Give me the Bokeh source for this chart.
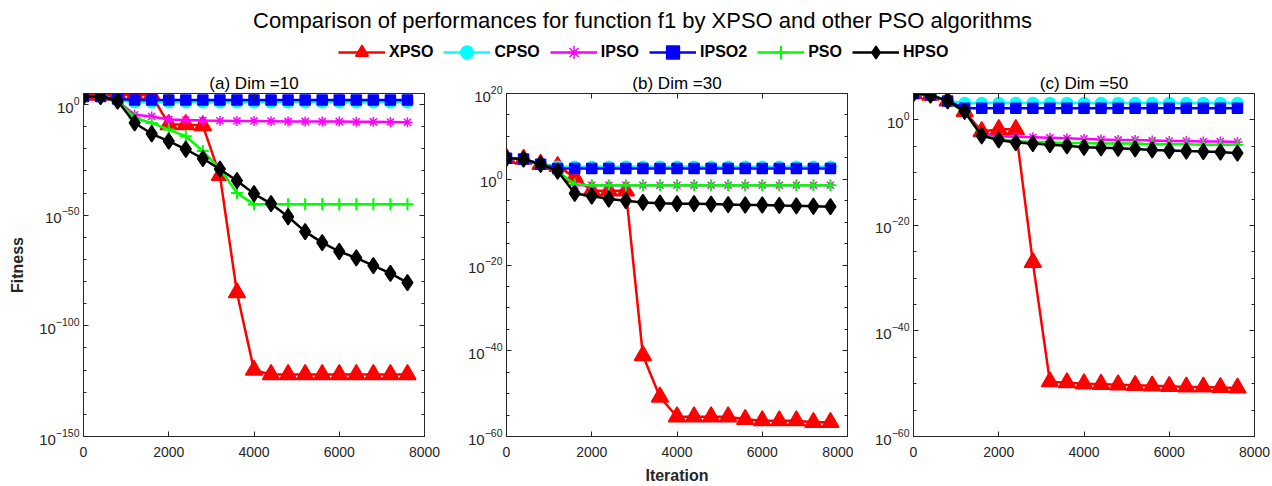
import math
from bokeh.plotting import figure
from bokeh.models import (Range1d, FixedTicker, LinearAxis, LogAxis, Legend,
                          LegendItem, Label, CustomJSTickFormatter)
from bokeh.layouts import column, row
from bokeh.embed import file_html
from bokeh.resources import INLINE

# ---------------- data ----------------
iterations = [0, 400, 800, 1200, 1600, 2000, 2400, 2800, 3200, 3600,
              4000, 4400, 4800, 5200, 5600, 6000, 6400, 6800, 7200, 7600]

series_names = ["XPSO", "CPSO", "IPSO", "IPSO2", "PSO", "HPSO"]
panel_titles = ["(a) Dim =10", "(b) Dim =30", "(c) Dim =50"]
main_title = "Comparison of performances for function f1 by XPSO and other PSO algorithms"
x_label = "Iteration"
y_label = "Fitness"
x_tick_values = [0, 2000, 4000, 6000, 8000]

# Dim = 10
d10_xpso = [2e4, 2e4, 2e4, 2e4, 2e4, 1e-9, 1e-9, 3.2e-10, 1e-32, 1e-85,
            1e-120, 1e-122, 1e-122, 1e-122, 1e-122, 1e-122, 1e-122, 1e-122, 1e-122, 1e-122]
d10_cpso = [4e3, 4e3, 1e2, 1e1, 1e1, 1e1, 1e1, 1e1, 1e1, 1e1,
            1e1, 1e1, 1e1, 1e1, 1e1, 1e1, 1e1, 1e1, 1e1, 1e1]
d10_ipso = [4e3, 4e3, 4e1, 2.5e-5, 4e-6, 1.6e-7, 1e-7, 6.3e-8, 5e-8, 4e-8,
            4e-8, 3.2e-8, 2.5e-8, 2.5e-8, 2e-8, 2e-8, 1.6e-8, 1.6e-8, 1.26e-8, 1e-8]
d10_ipso2 = [4e3, 4e3, 3.2e2, 1.26e2, 1.26e2, 1.26e2, 1.26e2, 1.26e2, 1.26e2, 1.26e2,
             1.26e2, 1.26e2, 1.26e2, 1.26e2, 1.26e2, 1.26e2, 1.26e2, 1.26e2, 1.26e2, 1.26e2]
d10_pso = [4e3, 4e3, 4e1, 7.9e-7, 5e-9, 5e-12, 5e-15, 1e-21, 1e-29, 1e-40,
           1e-45, 1e-45, 1e-45, 1e-45, 1e-45, 1e-45, 1e-45, 1e-45, 1e-45, 1e-45]
d10_hpso = [4e3, 4e3, 4e1, 5e-9, 6.3e-14, 3.2e-17, 6.3e-21, 4e-25, 6.3e-30, 4e-35,
            5e-41, 1.6e-45, 2e-51, 4e-58, 4e-63, 4e-67, 5e-70, 1.6e-73, 5e-77, 3.2e-81]

# Dim = 30
d30_xpso = [7.9e4, 5e4, 3.2e3, 1e3, 3.2, 2e-3, 2e-3, 2e-3, 7.9e-42, 1.6e-51,
            4e-56, 4e-56, 4e-56, 4e-56, 1e-56, 5e-57, 5e-57, 5e-57, 2e-57, 2e-57]
d30_cpso = [7.9e4, 5e4, 3.2e3, 7.9e2, 7.9e2, 7.9e2, 7.9e2, 7.9e2, 7.9e2, 7.9e2,
            7.9e2, 7.9e2, 7.9e2, 7.9e2, 7.9e2, 7.9e2, 7.9e2, 7.9e2, 7.9e2, 7.9e2]
d30_ipso = [7.9e4, 5e4, 3.2e3, 7.9e1, 4e-2, 4e-2, 4e-2, 4e-2, 4e-2, 4e-2,
            4e-2, 4e-2, 4e-2, 4e-2, 4e-2, 4e-2, 4e-2, 4e-2, 4e-2, 4e-2]
d30_ipso2 = [7.9e4, 5e4, 3.2e3, 3.2e2, 3.2e2, 3.2e2, 3.2e2, 3.2e2, 3.2e2, 3.2e2,
             3.2e2, 3.2e2, 3.2e2, 3.2e2, 3.2e2, 3.2e2, 3.2e2, 3.2e2, 3.2e2, 3.2e2]
d30_pso = [7.9e4, 5e4, 3.2e3, 7.9e1, 6.3e-2, 4e-2, 4e-2, 4e-2, 4e-2, 4e-2,
           4e-2, 4e-2, 4e-2, 4e-2, 4e-2, 4e-2, 4e-2, 4e-2, 4e-2, 4e-2]
d30_hpso = [7.9e4, 5e4, 3.2e3, 7.9e1, 5e-4, 1.26e-4, 2.5e-5, 1e-5, 4e-6, 2.5e-6,
            2e-6, 2e-6, 1.6e-6, 1.26e-6, 1e-6, 1e-6, 7.9e-7, 6.3e-7, 5e-7, 4e-7]

# Dim = 50
d50_xpso = [1e5, 5e4, 4e3, 4e1, 6.3e-3, 1.6e-2, 1.6e-2, 1e-27, 2.5e-50, 1.6e-50,
            1e-50, 7.9e-51, 6.3e-51, 5e-51, 4e-51, 3.2e-51, 2.5e-51, 2.5e-51, 2e-51, 1.6e-51]
d50_cpso = [1e5, 5e4, 4e3, 1.6e3, 1.6e3, 1.6e3, 1.6e3, 1.6e3, 1.6e3, 1.6e3,
            1.6e3, 1.6e3, 1.6e3, 1.6e3, 1.6e3, 1.6e3, 1.6e3, 1.6e3, 1.6e3, 1.6e3]
d50_ipso = [1e5, 5e4, 4e3, 4e1, 1.6e-3, 7.9e-4, 6.3e-4, 5e-4, 4e-4, 3.2e-4,
            2.5e-4, 2e-4, 1.6e-4, 1.6e-4, 1.26e-4, 1e-4, 1e-4, 7.9e-5, 7.9e-5, 6.3e-5]
d50_ipso2 = [1e5, 5e4, 4e3, 1.6e2, 1.6e2, 1.6e2, 1.6e2, 1.6e2, 1.6e2, 1.6e2,
             1.6e2, 1.6e2, 1.6e2, 1.6e2, 1.6e2, 1.6e2, 1.6e2, 1.6e2, 1.6e2, 1.6e2]
d50_pso = [1e5, 5e4, 4e3, 2.5e1, 1e-3, 2.5e-4, 1e-4, 6.3e-5, 5e-5, 4e-5,
           4e-5, 3.2e-5, 3.2e-5, 3.2e-5, 2.5e-5, 2.5e-5, 2.5e-5, 2e-5, 2e-5, 2e-5]
d50_hpso = [1e5, 5e4, 4e3, 4e1, 1e-3, 1.6e-4, 5e-5, 3.2e-5, 2e-5, 1.26e-5,
            6.3e-6, 5e-6, 4e-6, 3.2e-6, 2e-6, 1.6e-6, 1.26e-6, 1e-6, 7.9e-7, 5e-7]

# y-axis tick values (major) per panel
d10_yticks = [1e-150, 1e-100, 1e-50, 1e0]
d30_yticks = [1e-60, 1e-40, 1e-20, 1e0, 1e20]
d50_yticks = [1e-60, 1e-40, 1e-20, 1e0]

# ---------------- styles ----------------
colors = ["#FF0000", "#00FFFF", "#FF00FF", "#0000FF", "#00FF00", "#000000"]
markers = ["triangle", "circle", "asterisk", "square", "cross", "diamond"]
msizes = [17, 11, 10, 10, 12, 16]
mwidths = [1.5, 1.5, 1.5, 1.5, 2.0, 1.5]
FONT = "Liberation Sans"
AX = "#262626"
H_HDR = 62
H_ROW = 486 - H_HDR


def style_axis(ax, labels=True, size="14px"):
    ax.axis_line_color = AX
    ax.major_tick_line_color = AX
    ax.minor_tick_line_color = AX
    ax.major_tick_in = 5
    ax.major_tick_out = 0
    ax.minor_tick_in = 3
    ax.minor_tick_out = 0
    ax.major_label_text_font = FONT
    ax.major_label_text_color = AX
    if labels:
        ax.major_label_text_font_size = size
    else:
        ax.formatter = CustomJSTickFormatter(code="return '';")
        ax.major_label_text_font_size = "1px"
        ax.major_label_standoff = 0


def make_panel(title, series, yr, yticks, minor_step, width, bl, br, ylab, xlab):
    p = figure(width=width, height=H_ROW, x_range=Range1d(0, 8000),
               y_range=Range1d(*yr), y_axis_type="log",
               output_backend="svg", toolbar_location=None,
               min_border_left=bl, min_border_right=br,
               min_border_top=31, min_border_bottom=48)
    p.grid.visible = False
    p.outline_line_color = AX
    p.background_fill_color = "white"
    p.border_fill_color = "white"
    p.title.text = title
    p.title.align = "center"
    p.title.text_font = FONT
    p.title.text_font_size = "17px"
    p.title.text_font_style = "normal"
    p.title.text_color = "#000000"
    p.title.standoff = 2

    lo = int(round(math.log10(yr[0])))
    hi = int(round(math.log10(yr[1])))
    minor = [10.0 ** e for e in range(lo, hi + 1, minor_step)]
    yt = FixedTicker(ticks=yticks, minor_ticks=minor)
    xt = FixedTicker(ticks=x_tick_values, minor_ticks=[])

    xa = p.xaxis[0]
    ya = p.yaxis[0]
    xa.ticker = xt
    ya.ticker = yt
    style_axis(xa)
    style_axis(ya, size="15px")
    xa.major_label_standoff = 10
    ya.major_label_standoff = 4
    if ylab:
        ya.axis_label = y_label
        ya.axis_label_text_font = FONT
        ya.axis_label_text_font_size = "16px"
        ya.axis_label_text_font_style = "bold"
        ya.axis_label_text_color = AX
        ya.axis_label_standoff = 10
    if xlab:
        xa.axis_label = x_label
        xa.axis_label_text_font = FONT
        xa.axis_label_text_font_size = "16px"
        xa.axis_label_text_font_style = "bold"
        xa.axis_label_text_color = AX
        xa.axis_label_standoff = 7

    ra = LogAxis(ticker=FixedTicker(ticks=yticks, minor_ticks=minor))
    style_axis(ra, labels=False)
    p.add_layout(ra, "right")
    ta = LinearAxis(ticker=FixedTicker(ticks=x_tick_values, minor_ticks=[]))
    style_axis(ta, labels=False)
    p.add_layout(ta, "above")

    for vals, c, m, s, w in zip(series, colors, markers, msizes, mwidths):
        p.line(iterations, vals, line_color=c, line_width=2.5)
        p.scatter(iterations, vals, marker=m, size=s, fill_color=c,
                  line_color=c, line_width=w)
    return p


series10 = [d10_xpso, d10_cpso, d10_ipso, d10_ipso2, d10_pso, d10_hpso]
p1 = make_panel(panel_titles[0], series10,
                (1e-150, 1e5), d10_yticks, 10, 446, 83, 22, True, False)
p2 = make_panel(panel_titles[1],
                [d30_xpso, d30_cpso, d30_ipso, d30_ipso2, d30_pso, d30_hpso],
                (1e-60, 1e20), d30_yticks, 5, 407, 60, 6, False, True)
p3 = make_panel(panel_titles[2],
                [d50_xpso, d50_cpso, d50_ipso, d50_ipso2, d50_pso, d50_hpso],
                (1e-60, 1e5), d50_yticks, 5, 419, 60, 18, False, False)

# ---------------- header: title + legend ----------------
hdr = figure(width=1272, height=H_HDR, x_range=Range1d(0, 1), y_range=Range1d(0, 1),
             output_backend="svg", toolbar_location=None, min_border=0,
             x_axis_location=None, y_axis_location=None)
hdr.grid.visible = False
hdr.outline_line_color = None
hdr.add_layout(Label(x=642, y=42, x_units="screen", y_units="screen",
                     text=main_title, text_align="center", text_baseline="middle",
                     text_font=FONT, text_font_size="22px", text_color="#000000"))
items = []
for name, vals, c, m, s, w in zip(series_names, series10, colors, markers, msizes, mwidths):
    # hidden copies of the series, only used to draw the legend glyphs
    lr = hdr.line(iterations, vals, line_color=c, line_width=2.5, visible=False)
    sr = hdr.scatter(iterations, vals, marker=m, size=s, fill_color=c,
                     line_color=c, line_width=w, visible=False)
    items.append(LegendItem(label=name, renderers=[lr, sr]))
leg = Legend(items=items, orientation="horizontal", location=(338, -6),
             glyph_width=47, glyph_height=32, label_standoff=4, spacing=10,
             padding=0, margin=0, border_line_color=None,
             background_fill_alpha=0, label_text_font=FONT,
             label_text_font_size="16px", label_text_font_style="bold",
             label_text_color="#000000", inactive_fill_alpha=0)
hdr.add_layout(leg, "center")

layout = column(hdr, row(p1, p2, p3, spacing=0), spacing=0)
open("out.html", "w").write(file_html(layout, INLINE))
